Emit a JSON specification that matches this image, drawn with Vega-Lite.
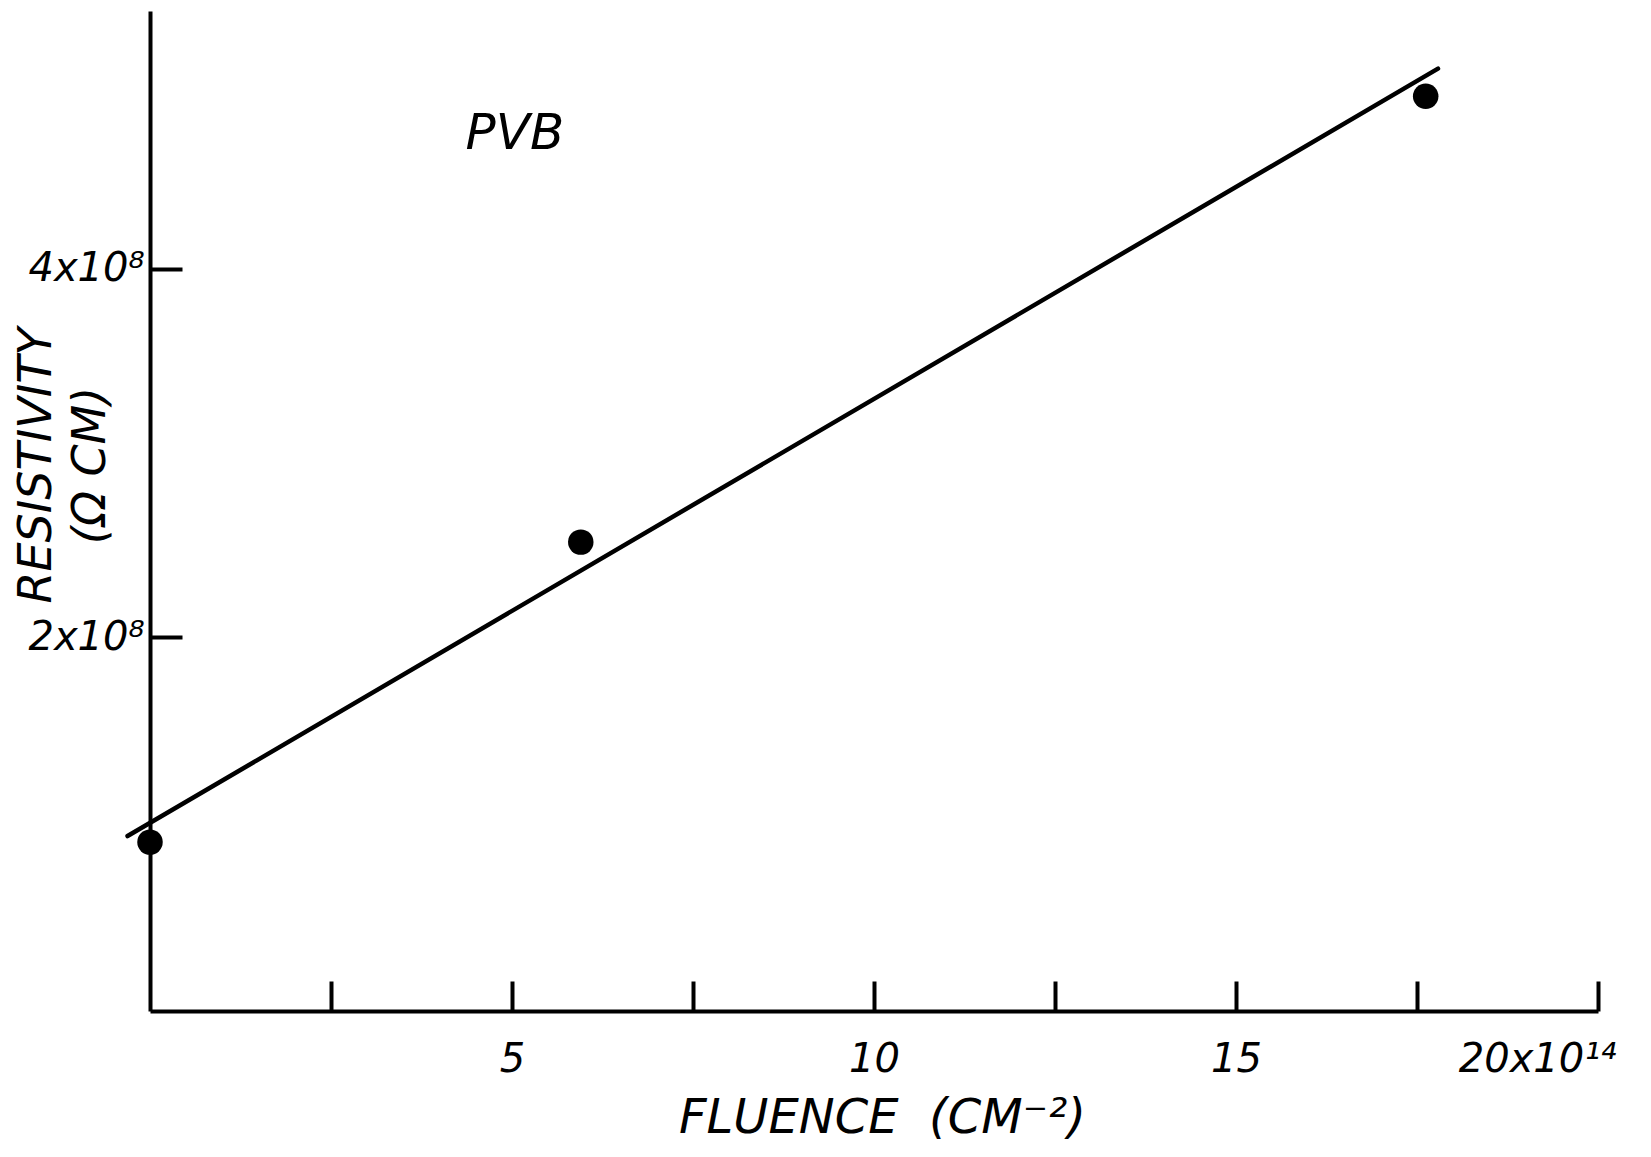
{
  "$schema": "https://vega.github.io/schema/vega-lite/v6.json",
  "width": 1448,
  "height": 1000,
  "autosize": {"type": "none"},
  "padding": {"left": 150, "top": 11, "right": 53, "bottom": 146},
  "background": "white",
  "config": {"view": {"stroke": null}, "font": "DejaVu Sans"},
  "datasets": {
    "points": [
      {"fluence": 0, "resistivity": 88700000},
      {"fluence": 5.95, "resistivity": 251600000},
      {"fluence": 17.62, "resistivity": 493700000}
    ],
    "fit": [
      {"fluence": -0.31, "resistivity": 92000000},
      {"fluence": 17.79, "resistivity": 508700000}
    ],
    "labels": [
      {"fluence": 5.04, "resistivity": 465000000, "text": "PVB"}
    ]
  },
  "layer": [
    {
      "data": {"name": "fit"},
      "mark": {"type": "line", "color": "black", "strokeWidth": 4.5, "strokeCap": "round"},
      "encoding": {
        "x": {
          "field": "fluence", "type": "quantitative",
          "scale": {"domain": [0, 20], "nice": false, "zero": false},
          "axis": {
            "values": [2.5, 5, 7.5, 10, 12.5, 15, 17.5, 20],
            "labelExpr": "datum.value == 20 ? '20x10¹⁴' : (datum.value % 5 == 0 ? '' + datum.value : '')",
            "grid": false,
            "domainColor": "black", "domainWidth": 4,
            "tickColor": "black", "tickWidth": 4, "tickSize": -30,
            "labelPadding": 58,
            "labelFont": "DejaVu Sans", "labelFontStyle": "italic", "labelFontSize": 40, "labelColor": "black",
            "labelOffset": {"condition": {"test": "datum.value == 20", "value": -61}, "value": 0},
            "labelFlush": false, "labelOverlap": false,
            "title": "FLUENCE\u00a0\u00a0(CM⁻²)",
            "titleFont": "DejaVu Sans", "titleFontSize": 48, "titleFontStyle": "italic", "titleFontWeight": "normal", "titleColor": "black",
            "titleX": 732, "titleY": 121, "titleBaseline": "alphabetic", "titleAlign": "center"
          }
        },
        "y": {
          "field": "resistivity", "type": "quantitative",
          "scale": {"domain": [-3000000, 540000000], "nice": false, "zero": false},
          "axis": {
            "values": [200000000, 400000000],
            "labelExpr": "datum.value == 400000000 ? '4x10⁸' : '2x10⁸'",
            "grid": false,
            "domainColor": "black", "domainWidth": 4,
            "tickColor": "black", "tickWidth": 4, "tickSize": -32,
            "labelPadding": 38,
            "labelFont": "DejaVu Sans", "labelFontStyle": "italic", "labelFontSize": 40, "labelColor": "black",
            "labelFlush": false, "labelOverlap": false,
            "title": ["RESISTIVITY", "(Ω CM)"],
            "titleFont": "DejaVu Sans", "titleFontSize": 46, "titleFontStyle": "italic", "titleFontWeight": "normal", "titleColor": "black",
            "titleAngle": -90, "titleX": -136, "titleY": 454, "titleBaseline": "top", "titleAlign": "center", "titleLineHeight": 54
          }
        }
      }
    },
    {
      "data": {"name": "points"},
      "mark": {"type": "point", "filled": true, "shape": "circle", "size": 650, "color": "black", "opacity": 1},
      "encoding": {
        "x": {"field": "fluence", "type": "quantitative"},
        "y": {"field": "resistivity", "type": "quantitative"}
      }
    },
    {
      "data": {"name": "labels"},
      "mark": {"type": "text", "font": "DejaVu Sans", "fontStyle": "italic", "fontSize": 50, "align": "center", "baseline": "alphabetic", "color": "black"},
      "encoding": {
        "x": {"field": "fluence", "type": "quantitative"},
        "y": {"field": "resistivity", "type": "quantitative"},
        "text": {"field": "text"}
      }
    }
  ]
}
